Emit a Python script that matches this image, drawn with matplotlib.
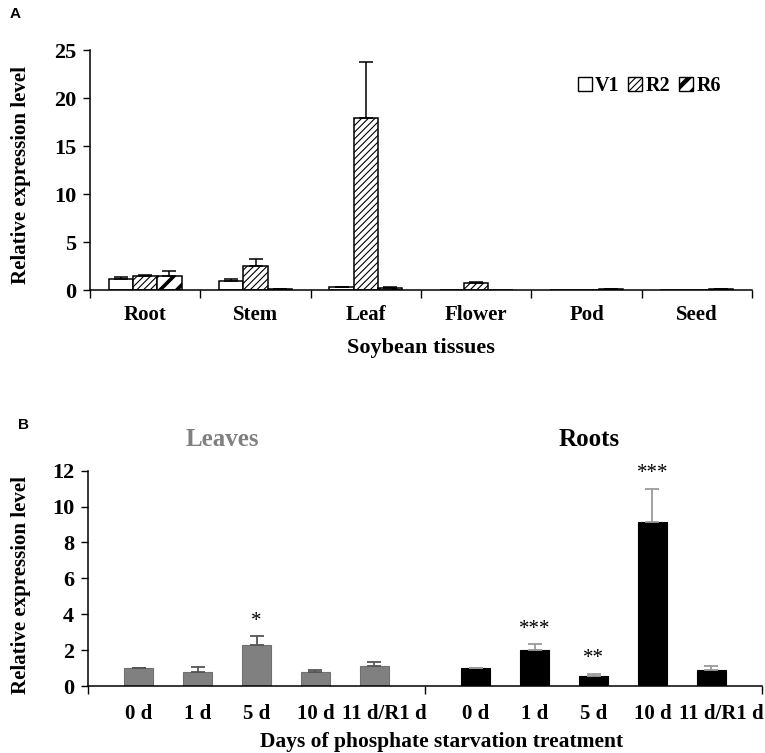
import matplotlib
matplotlib.use("Agg")
import matplotlib.pyplot as plt
import numpy as np
from matplotlib.patches import Patch
from matplotlib.transforms import ScaledTranslation
from matplotlib.legend_handler import HandlerPatch

# ---------- Data: panel A ----------
tissues = ["Root", "Stem", "Leaf", "Flower", "Pod", "Seed"]
stages = ["V1", "R2", "R6"]
v1_vals = [1.10, 0.95, 0.30, 0.0, 0.0, 0.0]
v1_err = [0.28, 0.18, 0.05, 0.0, 0.0, 0.0]
r2_vals = [1.50, 2.50, 17.95, 0.70, 0.0, 0.0]
r2_err = [0.10, 0.72, 5.75, 0.10, 0.0, 0.0]
r6_vals = [1.50, 0.08, 0.25, 0.0, 0.12, 0.06]
r6_err = [0.48, 0.02, 0.08, 0.0, 0.03, 0.02]

# ---------- Data: panel B ----------
days = ["0 d", "1 d", "5 d", "10 d", "11 d/R1 d"]
leaves_vals = [1.00, 0.78, 2.28, 0.78, 1.13]
leaves_err = [0.03, 0.27, 0.50, 0.10, 0.21]
roots_vals = [1.00, 2.00, 0.57, 9.15, 0.90]
roots_err = [0.03, 0.32, 0.12, 1.85, 0.22]
roots_sig = ["", "***", "**", "***", ""]
leaves_sig = ["", "", "*", "", ""]

SERIF = ["Liberation Serif", "DejaVu Serif"]
SANS = ["Liberation Sans", "DejaVu Sans"]
plt.rcParams["font.family"] = SERIF
plt.rcParams["font.weight"] = "bold"
plt.rcParams["hatch.linewidth"] = 1.0


class HatchHandler(HandlerPatch):
    def __init__(self, hlw, **kw):
        super().__init__(**kw)
        self.hlw = hlw

    def create_artists(self, *args, **kwargs):
        arts = super().create_artists(*args, **kwargs)
        for a in arts:
            try:
                a.set_hatch_linewidth(self.hlw)
            except Exception:
                pass
        return arts


fig = plt.figure(figsize=(7.65, 7.53), dpi=100)

# ================= Panel A =================
axA = fig.add_axes([90/765, 1-290/753, (752-90)/765, (290-50)/753])
n = len(tissues)
xc = np.arange(n) + 0.5
w = 0.22
series = [(v1_vals, v1_err, "", 1.0), (r2_vals, r2_err, "/////", 0.8), (r6_vals, r6_err, "//", 2.6)]
handles = []
hmap = {}
for k, (vals, errs, hatch, hlw) in enumerate(series):
    pos = xc + (k - 1) * w
    bars = axA.bar(pos, vals, width=w, color="white", edgecolor="black",
                   linewidth=1.1, hatch=hatch, zorder=2)
    for b in bars:
        try:
            b.set_hatch_linewidth(hlw)
        except Exception:
            pass
    errs_show = np.array(errs)
    mask = errs_show > 0
    axA.errorbar(pos[mask], np.array(vals)[mask], yerr=[np.zeros(mask.sum()), errs_show[mask]],
                 fmt="none", ecolor="black", elinewidth=1.1, capsize=5, capthick=1.1, zorder=3)
    hp = Patch(facecolor="white", edgecolor="black", hatch=("//" if k == 2 else hatch), linewidth=1.0)
    handles.append(hp)
    hmap[hp] = HatchHandler(3.2 if k == 2 else hlw)

axA.set_xlim(0, n)
axA.set_ylim(0, 25)
axA.set_yticks([0, 5, 10, 15, 20, 25])
axA.set_xticks(xc)
axA.set_xticklabels(tissues)
axA.set_xticks(np.arange(n + 1), minor=True)
axA.tick_params(axis="x", which="major", length=0, pad=11, labelsize=15)
axA.tick_params(axis="x", which="minor", length=6, width=1.0, direction="out")
axA.tick_params(axis="y", length=5, width=1.0, labelsize=16, direction="out", pad=5)
for s in ["top", "right"]:
    axA.spines[s].set_visible(False)
for s in ["left", "bottom"]:
    axA.spines[s].set_linewidth(1.1)
axA.set_ylabel("Relative expression level", fontsize=15, fontweight="bold")
axA.yaxis.set_label_coords(-0.089, 0.48)
axA.set_xlabel("Soybean tissues", fontsize=16, fontweight="bold")
axA.xaxis.set_label_coords(0.5, -0.2)
leg = axA.legend(handles, stages, handler_map=hmap, loc="upper right",
                 bbox_to_anchor=(0.965, 0.925), ncol=3,
                 frameon=False, fontsize=14.5, handlelength=0.7, handleheight=0.7,
                 handletextpad=0.15, columnspacing=0.45, borderaxespad=0)
fig.text(10/765, 1-14/753, "A", family=SANS, fontweight="bold", fontsize=11, va="center")

# ================= Panel B =================
axB = fig.add_axes([88/765, 1-686/753, (762-88)/765, (686-470.7)/753])
step = 0.175
bw = 0.087
lpos = 0.5 + (np.arange(len(days)) - 2) * step
rpos = 1.5 + (np.arange(len(days)) - 2) * step
gray = "#808080"
axB.bar(lpos, leaves_vals, width=bw, color=gray, edgecolor="#707070", linewidth=0.8, zorder=2)
axB.bar(rpos, roots_vals, width=bw, color="black", edgecolor="black", linewidth=0.8, zorder=2)
el = axB.errorbar(lpos, leaves_vals, yerr=[np.zeros(len(days)), leaves_err], fmt="none",
                  ecolor="#555555", elinewidth=1.3, capsize=5, capthick=1.3, zorder=3)
er = axB.errorbar(rpos, roots_vals, yerr=[np.zeros(len(days)), roots_err], fmt="none",
                  ecolor="#9a9a9a", elinewidth=1.3, capsize=5, capthick=1.3, zorder=3)
for cl in er[1]:
    cl.set_color("#444444")

for x, v, e, s in zip(lpos, leaves_vals, leaves_err, leaves_sig):
    if s:
        axB.text(x, v + e + 0.3, s, ha="center", va="bottom", fontsize=15, fontweight="normal")
for x, v, e, s in zip(rpos, roots_vals, roots_err, roots_sig):
    if s:
        axB.text(x, v + e + 0.3, s, ha="center", va="bottom", fontsize=15, fontweight="normal")

axB.set_xlim(0, 2)
axB.set_ylim(0, 12)
axB.set_yticks(np.arange(0, 13, 2))
axB.set_xticks(np.concatenate([lpos, rpos]))
axB.set_xticklabels(days + days)
axB.set_xticks([0, 1, 2], minor=True)
axB.tick_params(axis="x", which="major", length=0, pad=13, labelsize=15)
axB.tick_params(axis="x", which="minor", length=6, width=1.0, direction="out")
axB.tick_params(axis="y", length=5, width=1.0, labelsize=16, direction="out", pad=5)
# shift the long "11 d/R1 d" labels slightly right, as in the original layout
labs = axB.get_xticklabels()
for i, lab in enumerate(labs):
    if i % len(days) == len(days) - 1:
        lab.set_transform(lab.get_transform() + ScaledTranslation(10/100, 0, fig.dpi_scale_trans))
for s in ["top", "right"]:
    axB.spines[s].set_visible(False)
for s in ["left", "bottom"]:
    axB.spines[s].set_linewidth(1.1)
axB.set_ylabel("Relative expression level", fontsize=15, fontweight="bold")
axB.yaxis.set_label_coords(-0.085, 0.47)
axB.set_xlabel("Days of phosphate starvation treatment", fontsize=15.5, fontweight="bold")
axB.xaxis.set_label_coords(0.525, -0.215)
axB.text(0.40, 13.75, "Leaves", color=gray, ha="center", va="center", fontsize=18,
         fontweight="bold", clip_on=False)
axB.text(1.487, 13.75, "Roots", color="black", ha="center", va="center", fontsize=18,
         fontweight="bold", clip_on=False)
fig.text(18/765, 1-425/753, "B", family=SANS, fontweight="bold", fontsize=11, va="center")

fig.savefig("out.png", dpi=100, facecolor="white")
